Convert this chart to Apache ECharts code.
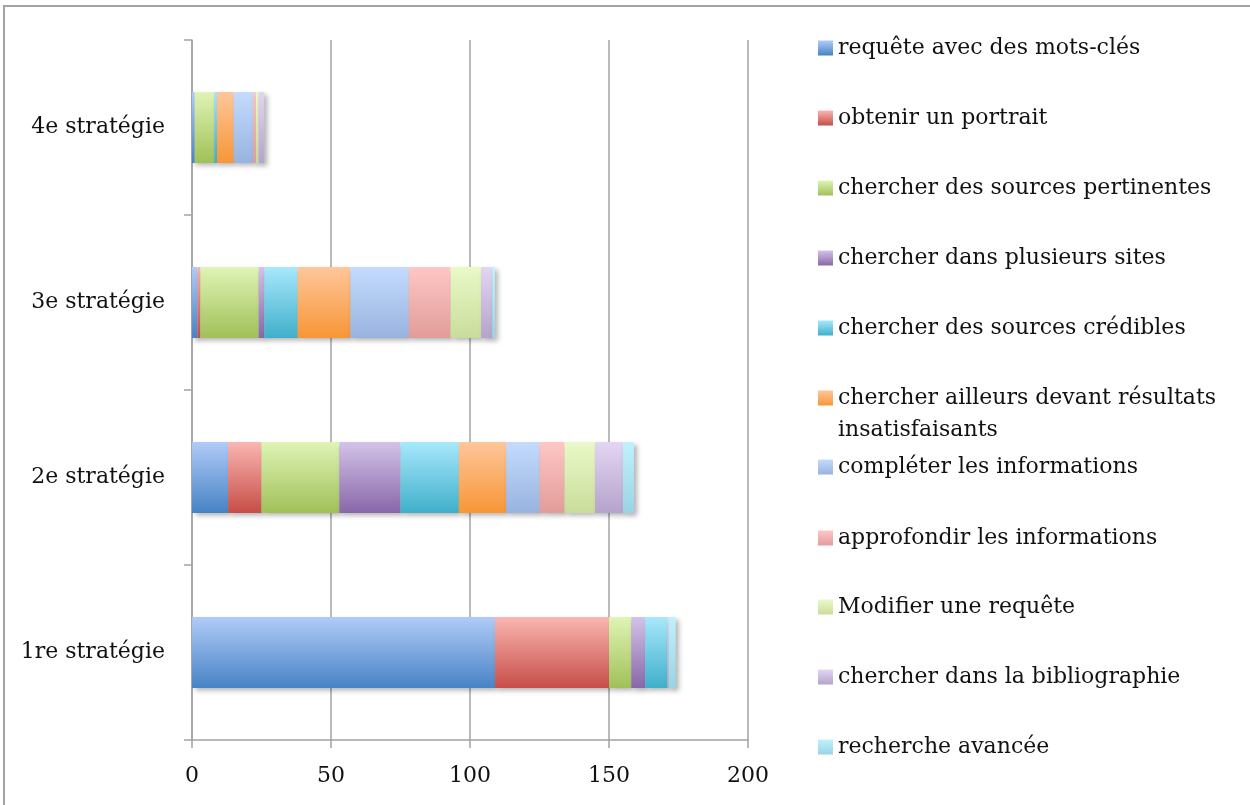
<!DOCTYPE html>
<html>
<head>
<meta charset="utf-8">
<script src="https://cdn.jsdelivr.net/npm/echarts@6/dist/echarts.min.js"></script>
<style>
  html, body { margin: 0; padding: 0; background: #fff; overflow: hidden; }
  #frame {
    position: absolute; left: 3px; top: 5px; width: 1300px; height: 900px;
    border-top: 2px solid #a3a3a3; border-left: 2px solid #a3a3a3;
    box-sizing: border-box; pointer-events: none; z-index: 2;
  }
  #main { position: absolute; left: 0; top: 0; width: 1250px; height: 805px; }
</style>
</head>
<body>
<div id="main"></div>
<div id="frame"></div>
<script>
// catégories de l'axe vertical (de bas en haut)
var categories = ['1re stratégie', '2e stratégie', '3e stratégie', '4e stratégie'];

var seriesNames = [
  'requête avec des mots-clés',
  'obtenir un portrait',
  'chercher des sources pertinentes',
  'chercher dans plusieurs sites',
  'chercher des sources crédibles',
  'chercher ailleurs devant résultats\ninsatisfaisants',
  'compléter les informations',
  'approfondir les informations',
  'Modifier une requête',
  'chercher dans la bibliographie',
  'recherche avancée'
];

// valeurs par série : [1re, 2e, 3e, 4e]
var motsCles      = [109, 13, 2, 1];
var portrait      = [41, 12, 1, 0];
var pertinentes   = [8, 28, 21, 7];
var plusieurs     = [5, 22, 2, 0];
var credibles     = [8, 21, 12, 1];
var ailleurs      = [0, 17, 19, 6];
var completer     = [0, 12, 21, 7];
var approfondir   = [0, 9, 15, 1];
var modifier      = [0, 11, 11, 1];
var bibliographie = [0.5, 10, 4, 2];
var avancee       = [2.5, 4, 1, 0];

var xTicks = [0, 50, 100, 150, 200];

var allValues = [motsCles, portrait, pertinentes, plusieurs, credibles, ailleurs,
  completer, approfondir, modifier, bibliographie, avancee];

// dégradés (haut clair -> bas foncé)
var topColors = ['#b1cbf7', '#fab6b1', '#dff4b6', '#d3c3e8', '#a8e8fc', '#fec69a',
  '#c4dbfd', '#fdc7c5', '#eaf9c8', '#e2d6f3', '#c0f1fc'];
var bottomColors = ['#4783c5', '#c74d47', '#a1c058', '#8867a8', '#40afca', '#f79636',
  '#98b3df', '#e29c99', '#c9dd9b', '#b5a3cb', '#9bd3e3'];

var font = 'DejaVu Serif';
var fontSize = 22;

var chart = echarts.init(document.getElementById('main'));

var series = seriesNames.map(function (name, i) {
  return {
    name: name,
    type: 'bar',
    stack: 'total',
    barWidth: '40.6%',
    data: allValues[i],
    itemStyle: {
      color: new echarts.graphic.LinearGradient(0, 0, 0, 1, [
        { offset: 0, color: topColors[i] },
        { offset: 1, color: bottomColors[i] }
      ]),
      shadowColor: 'rgba(0,0,0,0.3)',
      shadowBlur: 5,
      shadowOffsetX: 3,
      shadowOffsetY: 3
    }
  };
});

// une légende par item pour garder l'espacement fixe
var legendCenters = [48, 118, 188, 258, 328, 398, 467, 538, 607, 677, 747];
var legends = seriesNames.map(function (name, i) {
  var twoLines = name.indexOf('\n') >= 0;
  return {
    data: [name],
    left: 818,
    top: twoLines ? legendCenters[i] - 48 : legendCenters[i] - 13,
    orient: 'vertical',
    icon: 'rect',
    itemWidth: 15,
    itemHeight: 15,
    itemGap: 0,
    padding: 0,
    selectedMode: false,
    // ligne vide en tête : la 1re ligne du texte reste alignée sur le carré
    formatter: function (n) { return twoLines ? ' \n' + n : n; },
    textStyle: {
      fontFamily: font,
      fontSize: fontSize,
      color: '#111',
      lineHeight: twoLines ? 32 : 26
    }
  };
});

chart.setOption({
  animation: false,
  backgroundColor: '#fff',
  grid: { left: 192, top: 40, width: 556, height: 700, containLabel: false },
  legend: legends,
  xAxis: {
    type: 'value',
    min: xTicks[0],
    max: xTicks[xTicks.length - 1],
    interval: 50,
    axisLine: { show: true, lineStyle: { color: '#a3a3a3', width: 1.5 } },
    axisTick: { show: true, length: 8, lineStyle: { color: '#a3a3a3', width: 1.5 } },
    splitLine: { show: true, lineStyle: { color: '#a3a3a3', width: 1.5 } },
    axisLabel: { margin: 25, fontFamily: font, fontSize: fontSize, color: '#111' }
  },
  yAxis: {
    type: 'category',
    data: categories,
    axisLine: { show: true, lineStyle: { color: '#a3a3a3', width: 1.5 } },
    axisTick: { show: true, length: 8, lineStyle: { color: '#a3a3a3', width: 1.5 } },
    splitLine: { show: false },
    axisLabel: { margin: 27, padding: [6, 0, 0, 0], fontFamily: font, fontSize: fontSize, color: '#111' }
  },
  series: series
});
</script>
</body>
</html>
